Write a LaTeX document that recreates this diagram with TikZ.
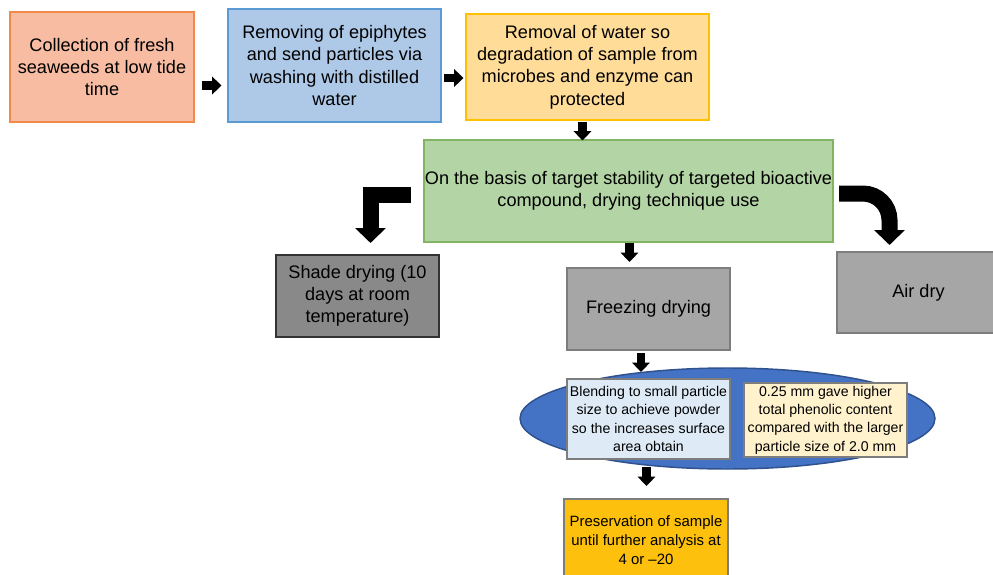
\documentclass[tikz,border=0pt]{standalone}
\usepackage{fontspec}
\setmainfont{Liberation Sans}
\usetikzlibrary{arrows.meta,shapes.geometric}
\definecolor{salmonF}{RGB}{247,188,162}
\definecolor{salmonD}{RGB}{240,138,75}
\definecolor{blueF}{RGB}{174,201,231}
\definecolor{blueD}{RGB}{91,155,213}
\definecolor{yelF}{RGB}{255,221,153}
\definecolor{yelD}{RGB}{255,192,0}
\definecolor{greenF}{RGB}{179,212,164}
\definecolor{greenD}{RGB}{130,180,100}
\definecolor{darkgrayF}{RGB}{137,137,137}
\definecolor{grayF}{RGB}{166,166,166}
\definecolor{grayD}{RGB}{125,125,125}
\definecolor{ellF}{RGB}{68,114,196}
\definecolor{ellD}{RGB}{47,82,143}
\definecolor{blendF}{RGB}{222,235,247}
\definecolor{phenF}{RGB}{255,242,204}
\definecolor{presF}{RGB}{253,192,12}
\tikzset{
  box/.style={draw, line width=1.1pt, align=center, inner sep=0pt},
  bigtxt/.style={font=\fontsize{13.6pt}{16.7pt}\selectfont},
  smalltxt/.style={font=\fontsize{10.6pt}{13.7pt}\selectfont},
  midtxt/.style={font=\fontsize{11.2pt}{14.5pt}\selectfont},
  blk/.style={line width=6.5pt, -{Triangle[length=7pt,width=13pt]}},
  bentarrow/.style={line width=12pt, line join=miter, -{Triangle[length=11.25pt,width=22.5pt]}}
}
\begin{document}
\begin{tikzpicture}[x=0.75pt,y=-0.75pt]
\useasboundingbox (0,0) rectangle (993,575);
% top row
\node[box, bigtxt, fill=salmonF, draw=salmonD, minimum width=0.75*184pt, minimum height=0.75*110pt] (b1) at (102,67)
  {Collection of fresh\\seaweeds at low tide\\time};
\node[box, bigtxt, fill=blueF, draw=blueD, minimum width=0.75*213pt, minimum height=0.75*113pt] (b2) at (334.5,65.5)
  {Removing of epiphytes\\and send particles via\\washing with distilled\\water};
\node[box, bigtxt, fill=yelF, draw=yelD, minimum width=0.75*243pt, minimum height=0.75*106pt] (b3) at (587.5,67)
  {Removal of water so\\degradation of sample from\\microbes and enzyme can\\protected};
% green
\node[box, bigtxt, fill=greenF, draw=greenD, minimum width=0.75*409pt, minimum height=0.75*102pt] (g) at (628.5,191)
  {On the basis of target stability of targeted bioactive\\compound, drying technique use};
% drying
\node[box, bigtxt, fill=darkgrayF, draw=black!80, minimum width=0.75*163pt, minimum height=0.75*82pt] (shade) at (357.5,296)
  {Shade drying (10\\days at room\\temperature)};
\node[box, bigtxt, fill=grayF, draw=grayD, minimum width=0.75*163pt, minimum height=0.75*82pt] (freeze) at (648.5,309)
  {Freezing drying};
\node[box, bigtxt, fill=grayF, draw=grayD, minimum width=0.75*163pt, minimum height=0.75*81pt] (air) at (918.5,292.5)
  {Air dry};
% ellipse
\node[ellipse, fill=ellF, draw=ellD, line width=1.1pt, minimum width=0.75*415pt, minimum height=0.75*101pt, inner sep=0pt] (ell) at (727.5,418.5) {};
\node[box, smalltxt, fill=blendF, draw=grayD, minimum width=0.75*163pt, minimum height=0.75*80pt] (blend) at (648.5,419)
  {Blending to small particle\\size to achieve powder\\so the increases surface\\area obtain};
\node[box, smalltxt, fill=phenF, draw=grayD, minimum width=0.75*163pt, minimum height=0.75*74pt] (phen) at (825.5,420)
  {0.25 mm gave higher\\total phenolic content\\compared with the larger\\particle size of 2.0 mm};
% preservation
\node[box, midtxt, fill=presF, draw=grayD, minimum width=0.75*164pt, minimum height=0.75*82pt] (pres) at (646,540)
  {Preservation of sample\\until further analysis at\\4 or --20};
% arrow ends
\coordinate (a1s) at (202,85.5); \coordinate (a1e) at (221.5,85.5);
\coordinate (a2s) at (444,78);   \coordinate (a2e) at (463.5,78);
\coordinate (a3s) at (582.5,122); \coordinate (a3e) at (582.5,140.5);
\coordinate (a4s) at (629.5,243); \coordinate (a4e) at (629.5,262);
\coordinate (a5s) at (641,353);   \coordinate (a5e) at (641,372);
\coordinate (a6s) at (646.5,467); \coordinate (a6e) at (646.5,486);
\draw[blk] (a1s) -- (a1e);
\draw[blk] (a2s) -- (a2e);
\draw[blk] (a3s) -- (a3e);
\draw[blk] (a4s) -- (a4e);
\draw[blk] (a5s) -- (a5e);
\draw[blk] (a6s) -- (a6e);
% bent arrows
\coordinate (lb) at (411,195); \coordinate (le) at (370.5,243);
\draw[bentarrow] (lb) -- (le |- lb) -- (le);
\coordinate (rb) at (839,193.5); \coordinate (re) at (889.5,245);
\draw[bentarrow, rounded corners=20pt] (rb) -- (re |- rb) -- (re);
\end{tikzpicture}
\end{document}
